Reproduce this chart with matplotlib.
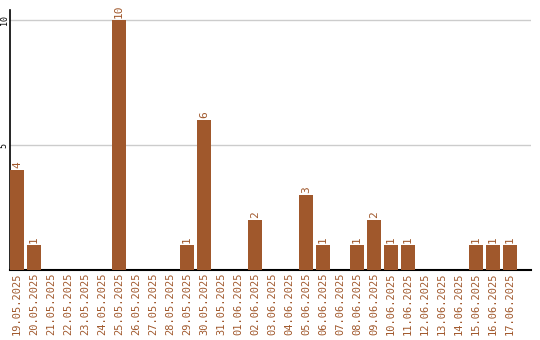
import matplotlib
matplotlib.use("Agg")
import matplotlib.pyplot as plt

dates = [
    "19.05.2025", "20.05.2025", "21.05.2025", "22.05.2025", "23.05.2025",
    "24.05.2025", "25.05.2025", "26.05.2025", "27.05.2025", "28.05.2025",
    "29.05.2025", "30.05.2025", "31.05.2025", "01.06.2025", "02.06.2025",
    "03.06.2025", "04.06.2025", "05.06.2025", "06.06.2025", "07.06.2025",
    "08.06.2025", "09.06.2025", "10.06.2025", "11.06.2025", "12.06.2025",
    "13.06.2025", "14.06.2025", "15.06.2025", "16.06.2025", "17.06.2025",
]
counts = [4, 1, 0, 0, 0, 0, 10, 0, 0, 0,
          1, 6, 0, 0, 2, 0, 0, 3, 1, 0,
          1, 2, 1, 1, 0, 0, 0, 1, 1, 1]
y_ticks = [5, 10]

bar_color = "#a0582c"

fig = plt.figure(figsize=(5.4, 3.4), dpi=100)
ax = fig.add_axes([10 / 540, 70 / 340, 521 / 540, 260 / 340])

xs = list(range(len(dates)))
ax.bar(xs, counts, width=14 / 17, color=bar_color, zorder=3)

# value labels sit right on top of each bar
for x, c in zip(xs, counts):
    if c > 0:
        ax.text(x, c + 0.08, str(c), rotation=90, ha="center", va="bottom",
                color=bar_color, fontsize=8, family="DejaVu Sans Mono")

ax.set_xlim(-7 / 17, 30.24)
ax.set_ylim(0, 10.4)
ax.set_yticks(y_ticks)
ax.set_yticklabels([str(t) for t in y_ticks], rotation=90, va="center",
                   fontsize=6, family="DejaVu Sans Mono")
ax.set_xticks(xs)
ax.set_xticklabels(dates, rotation=90, color=bar_color, fontsize=7.5,
                   family="DejaVu Sans Mono")
ax.tick_params(axis="both", length=0, pad=2)
ax.tick_params(axis="y", pad=1)
ax.grid(axis="y", color="#cccccc", linewidth=1, zorder=0)

for side in ["top", "right"]:
    ax.spines[side].set_visible(False)
ax.spines["left"].set_linewidth(1.2)
ax.spines["bottom"].set_linewidth(1.5)

fig.savefig("out.png", dpi=100)
